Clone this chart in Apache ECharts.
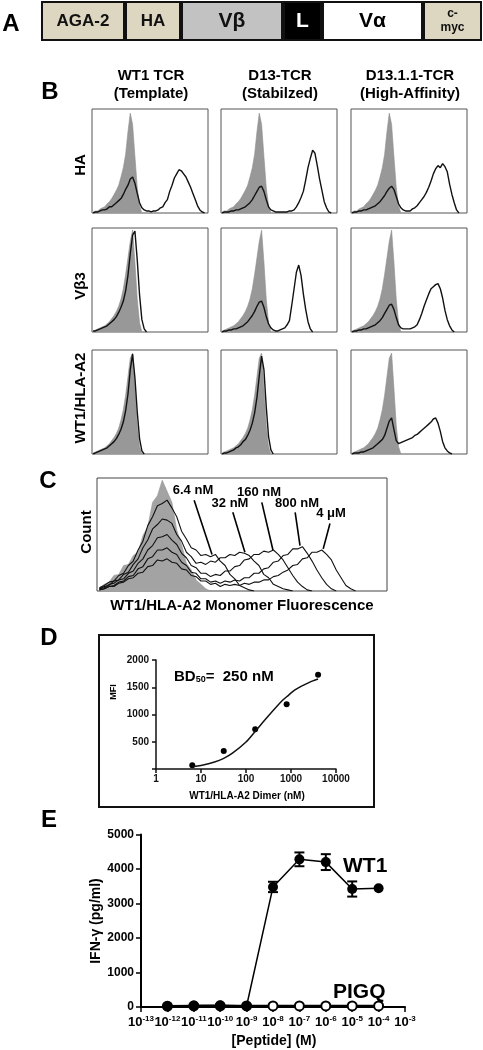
<!DOCTYPE html>
<html><head><meta charset="utf-8">
<script src="https://cdn.jsdelivr.net/npm/echarts@6/dist/echarts.min.js"></script>
<style>html,body{margin:0;padding:0;background:#fff}#c{width:483px;height:1050px}</style>
</head><body><div id="c"></div>
<script>
const FONT = '"Liberation Sans", Arial, Helvetica, sans-serif';

// ---------- Panel A: construct ----------
const segNames = ['AGA-2', 'HA', 'Vβ', 'L', 'Vα', 'c-\nmyc'];
const segLengths = [84, 56, 102, 39, 101, 59];

// ---------- Panel B: flow histograms (50 channels, % of max) ----------
const colHeaders = [['WT1 TCR', '(Template)'], ['D13-TCR', '(Stabilzed)'], ['D13.1.1-TCR', '(High-Affinity)']];
const rowLabels = ['HA', 'Vβ3', 'WT1/HLA-A2'];

const haGray = [1,2,2,4,5,6,9,11,14,18,22,27,35,44,57,79,97,86,55,25,7,0];
const haWT1 = [0,1,1,2,3,3,4,6,6,8,10,12,14,18,23,27,33,35,29,19,10,5,3,2,2,1,2,2,3,5,6,10,13,21,27,34,38,42,41,38,35,30,25,19,13,7,3,1,0];
const haD13 = [0,1,1,1,2,2,3,3,4,5,6,8,10,13,17,21,25,26,21,13,6,3,2,1,1,1,1,1,1,2,2,3,6,10,15,21,32,44,53,61,58,46,33,22,11,5,1,0];
const haD131 = [0,1,1,2,2,3,3,4,5,6,7,9,11,14,17,21,24,26,23,16,9,5,3,2,2,2,4,5,7,10,13,16,20,25,31,38,43,46,44,48,45,40,28,18,10,3,0];

const vbGray = [1,2,3,4,5,6,8,10,13,16,20,25,32,42,56,72,88,99,68,32,9,0];
const vbWT1 = [1,1,2,3,4,5,6,8,10,12,15,19,24,30,40,55,76,94,98,70,36,12,3,0];
const vbD13 = [0,1,1,2,2,3,3,4,5,6,8,10,13,16,20,25,29,30,24,15,8,4,2,1,1,2,3,4,7,11,26,42,58,65,55,37,22,10,3,0];
const vbD131 = [0,1,1,2,2,3,3,4,5,6,7,9,11,14,18,22,26,27,22,14,7,4,3,3,3,3,4,5,7,12,18,25,31,37,42,44,46,47,42,33,21,12,6,2,0];

const wtGray = [1,2,3,4,5,6,8,10,13,16,20,25,33,43,57,75,93,98,64,28,7,0];
const wtWT1 = [0,1,2,3,4,5,6,8,10,12,15,19,24,31,42,58,82,97,74,41,15,3,0];
const wtD13 = [0,1,1,2,3,4,6,7,9,12,14,18,23,30,40,55,76,95,82,46,17,4,0];
const wtD131 = [0,1,1,1,2,2,3,4,5,6,8,10,12,14,18,25,32,35,24,13,10,11,12,13,14,15,16,18,19,21,23,25,27,29,31,34,35,30,22,12,6,3,1,0];

const histRows = [
  {gray: haGray, lines: [haWT1, haD13, haD131]},
  {gray: vbGray, lines: [vbWT1, vbD13, vbD131]},
  {gray: wtGray, lines: [wtWT1, wtD13, wtD131]}
];

// ---------- Panel C: monomer titration histograms (60 channels) ----------
const concLabels = ['6.4 nM', '32 nM', '160 nM', '800 nM', '4 μM'];
const cGray = [3,6,8,14,15,23,24,32,35,50,58,80,86,100,90,80,55,42,25,19,10,6,2,0];
const c64 = [3,5,8,9,14,16,23,27,37,45,59,67,77,79,82,75,67,54,47,39,37,32,33,31,33,27,23,15,11,5,3,1,0];
const c32 = [2,4,5,9,10,15,17,24,29,39,46,56,60,65,64,61,51,45,35,31,25,26,24,27,26,30,30,33,32,35,34,32,27,23,15,12,6,4,2,1,0];
const c160 = [2,3,6,7,10,11,16,18,25,29,37,41,48,49,51,46,42,34,30,23,21,16,16,13,15,14,18,18,22,23,28,29,33,33,36,35,37,33,28,21,14,8,4,1,0];
const c800 = [1,2,4,5,8,9,13,14,20,22,29,31,37,37,39,35,33,26,23,17,16,11,11,8,9,7,9,8,10,9,12,12,16,16,20,21,26,27,32,33,38,38,40,34,27,19,12,6,2,0];
const c4u = [1,2,4,4,7,8,11,12,16,17,22,23,28,27,29,26,25,20,19,14,13,9,9,6,7,4,6,5,6,5,7,6,8,8,10,10,13,14,17,19,23,24,29,30,35,35,37,33,28,19,12,5,2,0];
const cCurves = [c64, c32, c160, c800, c4u];

// ---------- Panel D: binding curve ----------
const dimerConc = [6.4, 32, 160, 800, 4000];
const dimerMFI = [70, 330, 730, 1190, 1730];
const fitConc = [6.4, 10, 20, 32, 50, 100, 160, 320, 640, 800, 1280, 2560, 4000];
const fitMFI = [42, 66, 128, 195, 290, 495, 690, 980, 1255, 1325, 1460, 1590, 1650];
const dTicks = [1, 10, 100, 1000, 10000];

// ---------- Panel E: IFN-gamma ----------
const xExps = ['-13','-12','-11','-10','-9','-8','-7','-6','-5','-4','-3'];
const doseExps = ['-12','-11','-10','-9','-8','-7','-6','-5','-4'];
const wt1Mean = [20, 40, 50, 30, 3480, 4280, 4200, 3420, 3440];
const wt1Err = [0, 0, 0, 0, 150, 200, 230, 220, 0];
const pigqMean = [25, 30, 30, 30, 30, 30, 30, 30, 30];

// ================= build =================
const chart = echarts.init(document.getElementById('c'));
const grids = [], xAxes = [], yAxes = [], series = [], graphics = [];
function addGrid(g, x, y) {
  grids.push(g);
  const i = grids.length - 1;
  xAxes.push(Object.assign({gridIndex: i}, x));
  yAxes.push(Object.assign({gridIndex: i}, y));
  return i;
}
function txt(text, x, y, size, opts) {
  opts = opts || {};
  graphics.push({
    type: 'text', x: x, y: y, rotation: opts.rot || 0, z: 100,
    style: {
      text: text, fill: opts.color || '#000',
      font: 'bold ' + size + 'px ' + FONT,
      textAlign: opts.align || 'center', textVerticalAlign: 'middle',
      align: opts.align || 'center', verticalAlign: 'middle',
      rich: opts.rich
    }
  });
}

// Panel A
const segColors = ['#ddd6c0', '#ddd6c0', '#c2c2c2', '#000000', '#ffffff', '#ddd6c0'];
const segText = ['#111', '#111', '#111', '#fff', '#000', '#111'];
const segSize = [17, 17, 21, 21, 21, 12];
const totalLen = segLengths.reduce((a, b) => a + b, 0);
const gA = addGrid({left: 41, top: 1, width: 441, height: 40},
  {type: 'value', min: 0, max: totalLen, show: false},
  {type: 'category', data: ['construct'], show: false});
segLengths.forEach((len, k) => {
  series.push({
    type: 'bar', stack: 'A', xAxisIndex: gA, yAxisIndex: gA, barWidth: '100%',
    data: [len], silent: true,
    itemStyle: {color: segColors[k], borderColor: '#111', borderWidth: 2},
    label: {show: true, position: 'inside', formatter: segNames[k], color: segText[k],
      fontSize: segSize[k], fontWeight: 'bold', fontFamily: FONT, lineHeight: segSize[k] < 14 ? 14 : segSize[k] + 2}
  });
});
txt('A', 11, 24, 24);

// Panel B
const colLeft = [92, 221, 351];
const rowTop = [109, 228, 350];
const boxW = 116, boxH = 104;
txt('B', 50, 92, 24);
colHeaders.forEach((h, c) => {
  const cx = colLeft[c] + boxW / 2 + 1;
  txt(h[0], cx, 76, 15);
  txt(h[1], cx, 94, 15);
});
rowLabels.forEach((l, r) => {
  txt(l, 81, rowTop[r] + boxH / 2 + (r === 0 ? 4 : r === 1 ? 6 : -4), 15, {rot: Math.PI / 2});
});
histRows.forEach((row, r) => {
  row.lines.forEach((line, c) => {
    const g = addGrid({left: colLeft[c], top: rowTop[r], width: boxW, height: boxH, show: true,
        borderColor: '#555', borderWidth: 1, backgroundColor: 'transparent'},
      {type: 'value', min: 0, max: 50, show: false},
      {type: 'value', min: 0, max: 101, show: false});
    series.push({
      type: 'line', xAxisIndex: g, yAxisIndex: g, symbol: 'none', silent: true,
      data: row.gray.map((v, i) => [i + 0.5, v]),
      lineStyle: {width: 0.6, color: '#8f8f8f'}, areaStyle: {color: '#989898', opacity: 1}
    });
    series.push({
      type: 'line', xAxisIndex: g, yAxisIndex: g, symbol: 'none', silent: true,
      data: line.map((v, i) => [i + 0.5, v]),
      lineStyle: {width: 1.4, color: '#111'}
    });
  });
});

// Panel C
txt('C', 48, 481, 24);
const gC = addGrid({left: 97, top: 478, width: 290, height: 113, show: true, borderColor: '#444', borderWidth: 1},
  {type: 'value', min: 0, max: 60, show: false},
  {type: 'value', min: 0, max: 102, show: false});
series.push({
  type: 'line', xAxisIndex: gC, yAxisIndex: gC, symbol: 'none', silent: true,
  data: cGray.map((v, i) => [i + 0.5, v]),
  lineStyle: {width: 0.6, color: '#999'}, areaStyle: {color: '#a3a3a3', opacity: 1},
  markLine: {
    silent: true, symbol: 'none', label: {show: false},
    lineStyle: {color: '#000', width: 1.6, type: 'solid'},
    data: [
      [{coord: [20.1, 82]}, {coord: [23.8, 33]}],
      [{coord: [28.1, 71]}, {coord: [30.6, 35]}],
      [{coord: [34.1, 80]}, {coord: [36.4, 37]}],
      [{coord: [41.0, 71]}, {coord: [42.0, 41]}],
      [{coord: [48.2, 61]}, {coord: [46.8, 38]}]
    ]
  }
});
cCurves.forEach(cv => {
  series.push({
    type: 'line', xAxisIndex: gC, yAxisIndex: gC, symbol: 'none', silent: true,
    data: cv.map((v, i) => [i + 0.5, v]),
    lineStyle: {width: 1.1, color: '#111'}
  });
});
const concPos = [[193, 490], [230, 503], [259, 492], [297, 503], [331, 513]];
concLabels.forEach((l, k) => txt(l, concPos[k][0], concPos[k][1], 13));
txt('Count', 87, 532, 15, {rot: Math.PI / 2});
txt('WT1/HLA-A2 Monomer Fluorescence', 242, 606, 15);

// Panel D
txt('D', 49, 638, 24);
graphics.push({type: 'rect', shape: {x: 99, y: 635, width: 275, height: 172}, z: 90,
  style: {fill: 'none', stroke: '#111', lineWidth: 2}});
const axStyle = {lineStyle: {color: '#111', width: 1.5}};
const gD = addGrid({left: 156, top: 660, width: 180, height: 109},
  {type: 'log', logBase: 10, min: dTicks[0], max: dTicks[dTicks.length - 1],
    axisLine: axStyle, axisTick: {show: true, length: 4, lineStyle: {color: '#111', width: 1.5}},
    splitLine: {show: false}, minorTick: {show: false},
    axisLabel: {fontSize: 10, fontWeight: 'bold', fontFamily: FONT, color: '#111', margin: 5,
      formatter: v => String(Math.round(v))}},
  {type: 'value', min: 0, max: 2000, interval: 500,
    axisLine: {show: true, lineStyle: {color: '#111', width: 1.5}},
    axisTick: {show: true, length: 4, lineStyle: {color: '#111', width: 1.5}},
    splitLine: {show: false},
    axisLabel: {fontSize: 10, fontWeight: 'bold', fontFamily: FONT, color: '#111', margin: 7,
      formatter: v => v === 0 ? '' : String(v)}});
series.push({
  type: 'line', xAxisIndex: gD, yAxisIndex: gD, symbol: 'none', smooth: 0.3, silent: true,
  data: fitConc.map((x, i) => [x, fitMFI[i]]),
  lineStyle: {width: 1.5, color: '#111'}
});
series.push({
  type: 'scatter', xAxisIndex: gD, yAxisIndex: gD, symbolSize: 6, silent: true,
  data: dimerConc.map((x, i) => [x, dimerMFI[i]]),
  itemStyle: {color: '#000', opacity: 1}
});
txt('{a|BD}{s|50}{a|=  250 nM}', 174, 677, 14, {align: 'left', rich: {
  a: {fontSize: 15, fontWeight: 'bold', fontFamily: FONT, color: '#111'},
  s: {fontSize: 9, fontWeight: 'bold', fontFamily: FONT, color: '#111', verticalAlign: 'bottom', lineHeight: 10, padding: [6, 0, 0, 0]}
}});
txt('MFI', 114, 692, 9, {rot: Math.PI / 2});
txt('WT1/HLA-A2 Dimer (nM)', 247, 796, 10);

// Panel E
txt('E', 49, 820, 24);
const gE = addGrid({left: 141, top: 834.5, width: 264, height: 172.5},
  {type: 'category', data: xExps, boundaryGap: false,
    axisLine: {lineStyle: {color: '#000', width: 2}},
    axisTick: {show: true, length: 5, alignWithLabel: true, lineStyle: {color: '#000', width: 1.5}},
    axisLabel: {interval: 0, margin: 8, color: '#000',
      formatter: v => '{b|10}{s|' + v + '}',
      rich: {
        b: {fontSize: 13, fontWeight: 'bold', fontFamily: FONT, color: '#000', lineHeight: 15},
        s: {fontSize: 8, fontWeight: 'bold', fontFamily: FONT, color: '#000', lineHeight: 15, verticalAlign: 'top', padding: [0, 0, 6, 0]}
      }}},
  {type: 'value', min: 0, max: 5000, interval: 1000,
    axisLine: {show: true, lineStyle: {color: '#000', width: 2}},
    axisTick: {show: true, length: 5, lineStyle: {color: '#000', width: 1.5}},
    splitLine: {show: false},
    axisLabel: {fontSize: 12, fontWeight: 'bold', fontFamily: FONT, color: '#000', margin: 7,
      formatter: v => String(v)}});
series.push({
  type: 'line', xAxisIndex: gE, yAxisIndex: gE, silent: true, z: 3,
  data: doseExps.map((e, i) => [e, pigqMean[i]]),
  symbol: 'circle', symbolSize: 9,
  itemStyle: {color: '#fff', borderColor: '#000', borderWidth: 2},
  lineStyle: {color: '#000', width: 2.5}
});
series.push({
  type: 'line', xAxisIndex: gE, yAxisIndex: gE, silent: true, z: 4,
  data: doseExps.map((e, i) => [e, wt1Mean[i]]),
  symbol: 'circle', symbolSize: 10,
  itemStyle: {color: '#000'},
  lineStyle: {color: '#000', width: 1.5}
});
series.push({
  type: 'custom', xAxisIndex: gE, yAxisIndex: gE, silent: true, z: 5,
  data: doseExps.map((e, i) => [e, wt1Mean[i], wt1Err[i]]).filter(d => d[2] > 0),
  renderItem: (params, api) => {
    const idx = api.value(0), m = api.value(1), e = api.value(2);
    const hi = api.coord([idx, m + e]), lo = api.coord([idx, m - e]);
    const hw = 5, st = {stroke: '#000', lineWidth: 2};
    return {type: 'group', children: [
      {type: 'line', shape: {x1: hi[0], y1: hi[1], x2: lo[0], y2: lo[1]}, style: st},
      {type: 'line', shape: {x1: hi[0] - hw, y1: hi[1], x2: hi[0] + hw, y2: hi[1]}, style: st},
      {type: 'line', shape: {x1: lo[0] - hw, y1: lo[1], x2: lo[0] + hw, y2: lo[1]}, style: st}
    ]};
  }
});
txt('WT1', 343, 866, 21, {align: 'left'});
txt('PIGQ', 333, 992, 21, {align: 'left'});
txt('IFN-γ (pg/ml)', 96, 921, 14, {rot: Math.PI / 2});
txt('[Peptide] (M)', 274, 1041, 14);

chart.setOption({
  animation: false,
  backgroundColor: '#fff',
  textStyle: {fontFamily: FONT},
  grid: grids, xAxis: xAxes, yAxis: yAxes, series: series,
  graphic: {elements: graphics}
});
</script></body></html>
